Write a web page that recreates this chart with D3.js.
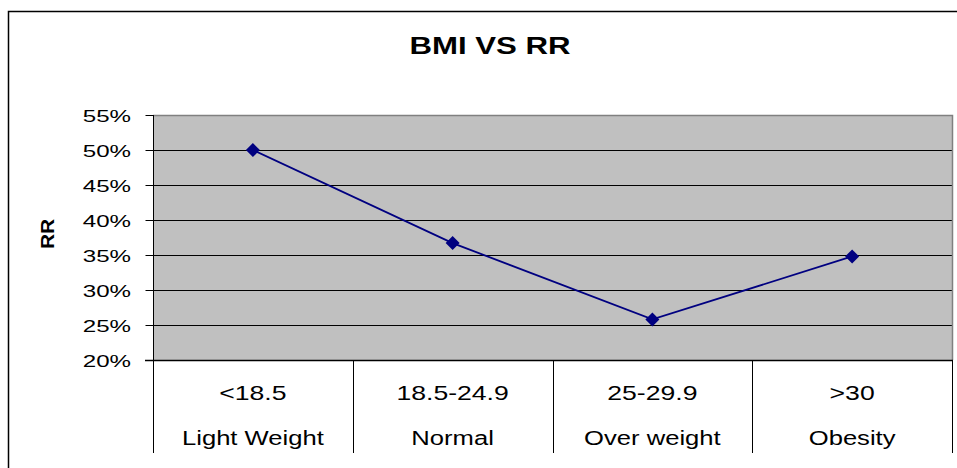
<!DOCTYPE html>
<html>
<head>
<meta charset="utf-8">
<script src="https://cdn.jsdelivr.net/npm/d3@7"></script>
<style>
  html, body { margin: 0; padding: 0; background: #fff; }
  svg { display: block; }
  text { font-family: "Liberation Sans", Arial, sans-serif; fill: #000; }
</style>
</head>
<body>
<svg id="chart" width="957" height="468"></svg>
<script>
// ---- data ----
const ranges = ["<18.5", "18.5-24.9", "25-29.9", ">30"];
const groups = ["Light Weight", "Normal", "Over weight", "Obesity"];
const rrValues = [0.50, 0.367, 0.258, 0.348];
const yTicks = [0.20, 0.25, 0.30, 0.35, 0.40, 0.45, 0.50, 0.55];
const chartTitle = "BMI VS RR";
const yTitle = "RR";

// ---- layout ----
const W = 957, H = 468;
const plot = { left: 153, right: 952, top: 115, bottom: 360 };
const tableBottom = 453;
const svg = d3.select("#chart");

// outer frame (extends beyond right/bottom edges)
svg.append("rect")
  .attr("x", 8.5).attr("y", 11.5)
  .attr("width", W + 20).attr("height", H + 20)
  .attr("fill", "#fff").attr("stroke", "#000").attr("stroke-width", 1.5);

const x = d3.scaleBand().domain(ranges).range([plot.left, plot.right]).padding(0);
const y = d3.scaleLinear().domain([0.20, 0.55]).range([plot.bottom, plot.top]);

// plot background
svg.append("rect")
  .attr("x", plot.left).attr("y", plot.top)
  .attr("width", plot.right - plot.left).attr("height", plot.bottom - plot.top)
  .attr("fill", "#c0c0c0");

// gridlines
svg.append("g").selectAll("line")
  .data(yTicks.filter(t => t > 0.2 && t < 0.55))
  .join("line")
  .attr("x1", plot.left).attr("x2", plot.right)
  .attr("y1", d => Math.round(y(d)) + 0.5).attr("y2", d => Math.round(y(d)) + 0.5)
  .attr("stroke", "#000").attr("stroke-width", 1);

// plot top and right border (gray)
svg.append("path")
  .attr("d", `M${plot.left},${plot.top + 0.5}H${plot.right + 0.5}V${plot.bottom}`)
  .attr("fill", "none").attr("stroke", "#808080").attr("stroke-width", 1.5);

// y axis
const yAxis = d3.axisLeft(y).tickValues(yTicks).tickFormat(d3.format(".0%")).tickSize(8).tickPadding(0);
const gy = svg.append("g").attr("transform", `translate(${plot.left + 0.5},0)`).call(yAxis);
gy.select(".domain").remove();
gy.selectAll(".tick line").attr("stroke", "#000");
gy.selectAll(".tick text").remove();
svg.append("line")
  .attr("x1", plot.left + 0.5).attr("x2", plot.left + 0.5)
  .attr("y1", plot.top).attr("y2", tableBottom)
  .attr("stroke", "#000").attr("stroke-width", 1);

// y tick labels (stretched horizontally like the reference)
svg.append("g").selectAll("text")
  .data(yTicks)
  .join("text")
  .attr("transform", d => `translate(131,${y(d) + 6.5}) scale(1.42,1)`)
  .attr("text-anchor", "end")
  .attr("font-size", 17)
  .text(d => d3.format(".0%")(d));

// x axis line + separators
svg.append("line")
  .attr("x1", plot.left - 8).attr("x2", plot.right + 1)
  .attr("y1", plot.bottom + 0.5).attr("y2", plot.bottom + 0.5)
  .attr("stroke", "#000").attr("stroke-width", 1.5);
svg.append("g").selectAll("line")
  .data(ranges)
  .join("line")
  .attr("x1", d => Math.round(x(d) + x.bandwidth()) + 0.5)
  .attr("x2", d => Math.round(x(d) + x.bandwidth()) + 0.5)
  .attr("y1", plot.bottom).attr("y2", tableBottom)
  .attr("stroke", "#000").attr("stroke-width", 1);

// category labels (two rows)
const cx = d => x(d) + x.bandwidth() / 2;
svg.append("g").selectAll("text")
  .data(ranges)
  .join("text")
  .attr("transform", d => `translate(${cx(d)},400) scale(1.33,1)`)
  .attr("text-anchor", "middle")
  .attr("font-size", 20)
  .text(d => d);
svg.append("g").selectAll("text")
  .data(groups)
  .join("text")
  .attr("transform", (d, i) => `translate(${cx(ranges[i])},445) scale(1.28,1)`)
  .attr("text-anchor", "middle")
  .attr("font-size", 20)
  .text(d => d);

// line
const line = d3.line().x((d, i) => cx(ranges[i])).y(d => y(d));
svg.append("path")
  .datum(rrValues)
  .attr("d", line)
  .attr("fill", "none").attr("stroke", "#000080").attr("stroke-width", 1.8);

// diamond markers
svg.append("g").selectAll("path")
  .data(rrValues)
  .join("path")
  .attr("transform", (d, i) => `translate(${cx(ranges[i])},${y(d)})`)
  .attr("d", "M0,-7L7,0L0,7L-7,0Z")
  .attr("fill", "#000080");

// title
svg.append("text")
  .attr("transform", "translate(490,54) scale(1.3,1)")
  .attr("text-anchor", "middle")
  .attr("font-size", 24).attr("font-weight", "bold")
  .text(chartTitle);

// y title
svg.append("text")
  .attr("transform", "translate(54,234) rotate(-90) scale(1.1,1)")
  .attr("text-anchor", "middle")
  .attr("font-size", 19).attr("font-weight", "bold")
  .text(yTitle);
</script>
</body>
</html>
